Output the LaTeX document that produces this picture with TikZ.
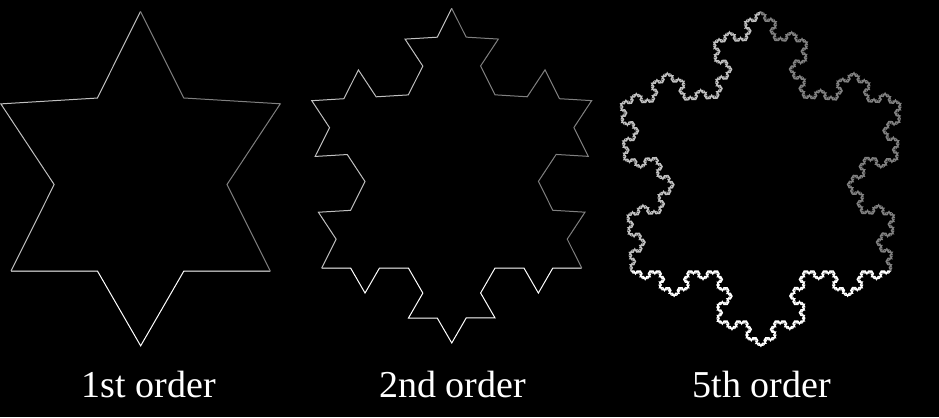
\documentclass[tikz,border=0pt]{standalone}
\usepackage{fontspec}
\setmainfont{Liberation Serif}
\usepackage{tikz}
\usetikzlibrary{decorations.fractals}

\definecolor{lightside}{RGB}{192,192,192}
\definecolor{darkside}{RGB}{128,128,128}

\tikzset{
  koch/.style={line width=1bp, line join=miter, decoration=Koch snowflake},
  bottom side/.style={koch, draw=white},
  left side/.style={koch, draw=lightside},
  right side/.style={koch, draw=darkside},
  fine/.style={line width=1.4bp},
  order label/.style={anchor=base, text=white, font=\fontsize{38bp}{44bp}\selectfont}
}

\begin{document}
\begin{tikzpicture}[x=1bp, y=-1bp]
            \fill[black] (0,0) rectangle (939,417);
            \useasboundingbox (0,0) rectangle (939,417);
            % corners of the three base triangles
            \coordinate (A1) at (11,271);
            \coordinate (B1) at (270.3,271);
            \coordinate (C1) at (140.5,11.5);
            \coordinate (A2) at (321.7,268);
            \coordinate (B2) at (581.7,268);
            \coordinate (C2) at (451.7,8.3);
            \coordinate (A5) at (630.7,271);
            \coordinate (B5) at (891,271);
            \coordinate (C5) at (760.5,11.5);
            % 1st order
            \draw[bottom side] decorate{(B1) -- (A1)};
            \draw[left side] decorate{(A1) -- (C1)};
            \draw[right side] decorate{(C1) -- (B1)};
            % 2nd order
            \draw[bottom side] decorate{decorate{(B2) -- (A2)}};
            \draw[left side] decorate{decorate{(A2) -- (C2)}};
            \draw[right side] decorate{decorate{(C2) -- (B2)}};
            % 5th order
            \draw[bottom side, fine] decorate{decorate{decorate{decorate{decorate{(B5) -- (A5)}}}}};
            \draw[left side, fine] decorate{decorate{decorate{decorate{decorate{(A5) -- (C5)}}}}};
            \draw[right side, fine] decorate{decorate{decorate{decorate{decorate{(C5) -- (B5)}}}}};
            \node[order label] (first) at (149,397) {1st order};
            \node[order label] (second) at (452.5,397) {2nd order};
            \node[order label] (fifth) at (762,397) {5th order};
        \end{tikzpicture}
\end{document}
